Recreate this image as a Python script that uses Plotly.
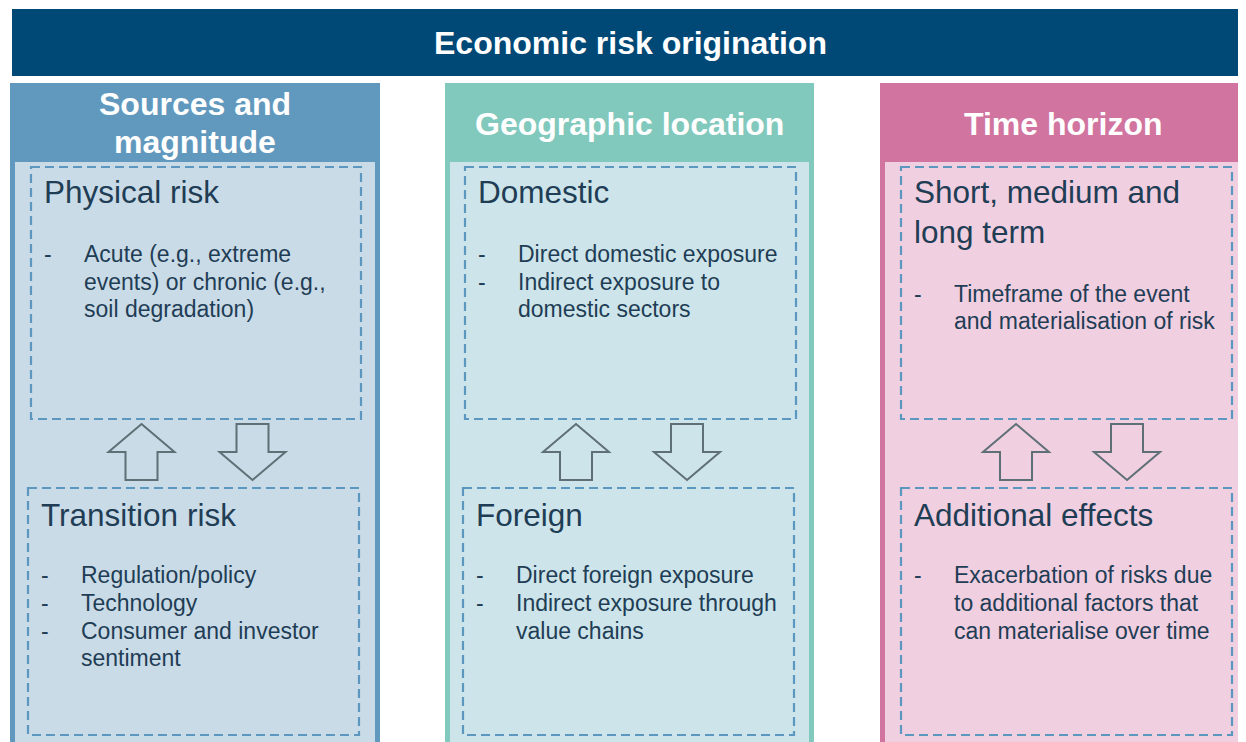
import plotly.graph_objects as go

# ---------------- content ----------------
main_title = "Economic risk origination"
header_lines = [["Sources and", "magnitude"], ["Geographic location"], ["Time horizon"]]
top_titles = [["Physical risk"], ["Domestic"], ["Short, medium and", "long term"]]
top_bullets = [
    [["Acute (e.g., extreme", "events) or chronic (e.g.,", "soil degradation)"]],
    [["Direct domestic exposure"], ["Indirect exposure to", "domestic sectors"]],
    [["Timeframe of the event", "and materialisation of risk"]],
]
bottom_titles = [["Transition risk"], ["Foreign"], ["Additional effects"]]
bottom_bullets = [
    [["Regulation/policy"], ["Technology"], ["Consumer and investor", "sentiment"]],
    [["Direct foreign exposure"], ["Indirect exposure through", "value chains"]],
    [["Exacerbation of risks due", "to additional factors that", "can materialise over time"]],
]

# ---------------- styling / layout ----------------
W, H = 1246, 742
OFF = 8  # page body margin
FONT = "Liberation Sans, Arial, sans-serif"
TEXT_C = "#1f3d55"
BANNER_C = "#004876"
HEAD_C = ["#6199be", "#82c9bd", "#d1749f"]
INNER_C = ["#c9dbe7", "#cde5ea", "#f0cfe0"]
DASH_C = "#5b97bf"
ARROW_C = "#5f6f76"

col_l = [10, 445, 880]
col_r = [380, 814, 1250]
top_box = [(31, 361), (465, 796), (901, 1232)]
bot_box = [(28, 359), (463, 794), (901, 1232)]
top_tx = [42, 476, 912]
bot_tx = [39, 474, 912]
arrow_up_x = [141.5, 576, 1016]
arrow_dn_x = [252.5, 687, 1127]

fig = go.Figure()
shapes = []
ann = []

def add_text(x, y, text, size, color=TEXT_C, bold=False, xanchor="left"):
    ann.append(dict(x=x, y=y, xref="x", yref="y", text=f"<b>{text}</b>" if bold else text,
                    showarrow=False, xanchor=xanchor, yanchor="middle",
                    font=dict(family=FONT, size=size, color=color)))

# banner
shapes.append(dict(type="rect", x0=12, x1=W + 10, y0=9, y1=76, fillcolor=BANNER_C,
                   line=dict(width=0), layer="below"))
add_text(630, 43, main_title, 32, "white", True, "center")

for i in range(3):
    # outer column
    shapes.append(dict(type="rect", x0=col_l[i], x1=col_r[i], y0=83, y1=H + 5,
                       fillcolor=HEAD_C[i], line=dict(width=0), layer="below"))
    shapes.append(dict(type="rect", x0=col_l[i] + 5, x1=col_r[i] - 5, y0=162, y1=H + 5,
                       fillcolor=INNER_C[i], line=dict(width=0), layer="below"))
    # header text
    hl = header_lines[i]
    cx = (col_l[i] + min(col_r[i], W)) / 2
    ys = [104, 142] if len(hl) == 2 else [123.5]
    for t, y in zip(hl, ys):
        add_text(cx, y, t, 32, "white", True, "center")
    # dashed boxes
    for (x0, x1), (y0, y1) in [(top_box[i], (167, 419)), (bot_box[i], (488, 735))]:
        shapes.append(dict(type="rect", x0=x0, x1=x1, y0=y0, y1=y1,
                           line=dict(color=DASH_C, width=2.2, dash="9px,5px"),
                           fillcolor="rgba(0,0,0,0)"))
    # arrows
    ux, dx = arrow_up_x[i], arrow_dn_x[i]
    hw, sw = 33, 16
    up = (f"M {ux},424 L {ux+hw},452 L {ux+sw},452 L {ux+sw},480 L {ux-sw},480 "
          f"L {ux-sw},452 L {ux-hw},452 Z")
    dn = (f"M {dx},480 L {dx+hw},452 L {dx+sw},452 L {dx+sw},424 L {dx-sw},424 "
          f"L {dx-sw},452 L {dx-hw},452 Z")
    for p in (up, dn):
        shapes.append(dict(type="path", path=p, line=dict(color=ARROW_C, width=2),
                           fillcolor="rgba(0,0,0,0)"))
    # top section text
    y = 192
    for k, t in enumerate(top_titles[i]):
        add_text(top_tx[i], y, t, 31.5)
        if k < len(top_titles[i]) - 1:
            y += 39.5
    y += 62
    for b in top_bullets[i]:
        add_text(top_tx[i], y, "-", 23)
        for line in b:
            add_text(top_tx[i] + 40, y, line, 23)
            y += 27.7
    # bottom section text
    for t in bottom_titles[i]:
        add_text(bot_tx[i], 514.5, t, 31.5)
    y = 575
    for b in bottom_bullets[i]:
        add_text(bot_tx[i], y, "-", 23)
        for line in b:
            add_text(bot_tx[i] + 40, y, line, 23)
            y += 27.8

fig.update_layout(
    width=W - OFF, height=H - OFF,
    margin=dict(l=0, r=0, t=0, b=0),
    paper_bgcolor="white", plot_bgcolor="white",
    xaxis=dict(range=[OFF, W], visible=False, fixedrange=True),
    yaxis=dict(range=[H, OFF], visible=False, fixedrange=True),
    shapes=shapes, annotations=ann, showlegend=False,
)
fig.write_html("out.html", config={"displayModeBar": False})
